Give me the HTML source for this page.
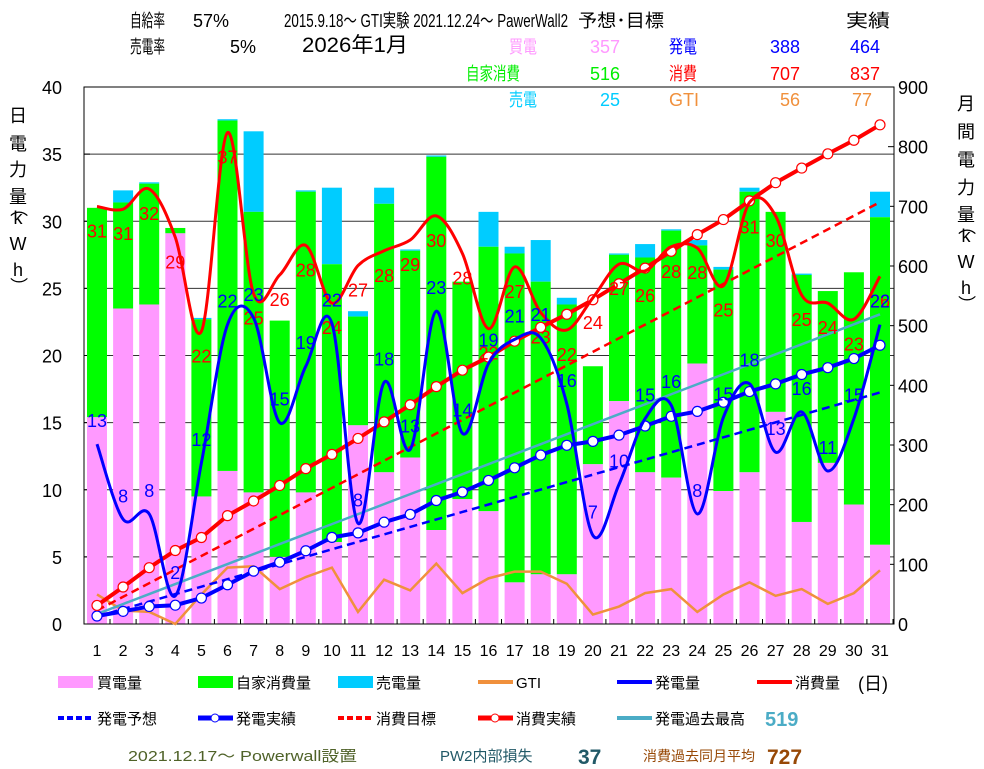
<!DOCTYPE html>
<html><head><meta charset="utf-8"><style>
body{margin:0;background:#fff;}
svg{display:block;font-family:"Liberation Sans","Noto Sans CJK JP",sans-serif;}
</style></head><body>
<svg id="chart" width="984" height="769" viewBox="0 0 984 769">
<g id="hdr" font-size="18" fill="#000">
<text x="130" y="27" textLength="35" lengthAdjust="spacingAndGlyphs">自給率</text>
<text x="193" y="27">57%</text>
<text x="284" y="27" textLength="284" lengthAdjust="spacingAndGlyphs">2015.9.18〜  GTI実験 2021.12.24〜 PawerWall2</text>
<text x="578" y="27" textLength="86" lengthAdjust="spacingAndGlyphs">予想･目標</text>
<text x="846" y="27" textLength="44" lengthAdjust="spacingAndGlyphs">実績</text>
<text x="130" y="53" textLength="35" lengthAdjust="spacingAndGlyphs">売電率</text>
<text x="230" y="53">5%</text>
<text x="302" y="52" font-size="21" textLength="106" lengthAdjust="spacingAndGlyphs">2026年1月</text>
<text x="509" y="53" fill="#ff99ff" textLength="28" lengthAdjust="spacingAndGlyphs">買電</text>
<text x="620" y="53" fill="#ff99ff" text-anchor="end">357</text>
<text x="669" y="53" fill="#0000ff" textLength="28" lengthAdjust="spacingAndGlyphs">発電</text>
<text x="800" y="53" fill="#0000ff" text-anchor="end">388</text>
<text x="880" y="53" fill="#0000ff" text-anchor="end">464</text>
<text x="466" y="80" fill="#00ee00" textLength="54" lengthAdjust="spacingAndGlyphs">自家消費</text>
<text x="620" y="80" fill="#00ee00" text-anchor="end">516</text>
<text x="669" y="80" fill="#ff0000" textLength="28" lengthAdjust="spacingAndGlyphs">消費</text>
<text x="800" y="80" fill="#ff0000" text-anchor="end">707</text>
<text x="880" y="80" fill="#ff0000" text-anchor="end">837</text>
<text x="509" y="106" fill="#00ccff" textLength="28" lengthAdjust="spacingAndGlyphs">売電</text>
<text x="620" y="106" fill="#00ccff" text-anchor="end">25</text>
<text x="669" y="106" fill="#f0903c">GTI</text>
<text x="800" y="106" fill="#f0903c" text-anchor="end">56</text>
<text x="872" y="106" fill="#f0903c" text-anchor="end">77</text>
</g>
<g id="plot"></g>
<g id="legend" font-size="15">
<rect x="58" y="676" width="35" height="12" fill="#ff99ff"/><text x="97" y="688">買電量</text>
<rect x="198" y="676" width="35" height="12" fill="#00ff00"/><text x="236" y="688">自家消費量</text>
<rect x="338" y="676" width="35" height="12" fill="#00ccff"/><text x="376" y="688">売電量</text>
<line x1="478" y1="682" x2="513" y2="682" stroke="#f0903c" stroke-width="4"/><text x="516" y="688">GTI</text>
<line x1="617" y1="682" x2="652" y2="682" stroke="#0000ff" stroke-width="4"/><text x="655" y="688">発電量</text>
<line x1="757" y1="682" x2="792" y2="682" stroke="#ff0000" stroke-width="4"/><text x="795" y="688">消費量</text>
<text x="858" y="690" font-size="18">(日)</text>
<line x1="58" y1="718" x2="93" y2="718" stroke="#0000ff" stroke-width="4" stroke-dasharray="6,3"/><text x="97" y="724">発電予想</text>
<line x1="198" y1="718" x2="233" y2="718" stroke="#0000ff" stroke-width="5"/><circle cx="215" cy="718" r="4" fill="#fff" stroke="#0000ff"/><text x="236" y="724">発電実績</text>
<line x1="338" y1="718" x2="373" y2="718" stroke="#ff0000" stroke-width="4" stroke-dasharray="6,3"/><text x="376" y="724">消費目標</text>
<line x1="478" y1="718" x2="513" y2="718" stroke="#ff0000" stroke-width="5"/><circle cx="495" cy="718" r="4" fill="#fff" stroke="#ff0000"/><text x="516" y="724">消費実績</text>
<line x1="617" y1="718" x2="652" y2="718" stroke="#4bacc6" stroke-width="4"/><text x="655" y="724">発電過去最高</text>
<text x="765" y="726" font-size="20" font-weight="bold" fill="#4bacc6">519</text>
<text x="128" y="761" fill="#4f6228" textLength="229" lengthAdjust="spacingAndGlyphs">2021.12.17〜  Powerwall設置</text>
<text x="440" y="761" fill="#215967">PW2内部損失</text>
<text x="578" y="764" font-size="21" font-weight="bold" fill="#215967">37</text>
<text x="643" y="761" fill="#974806" font-size="14">消費過去同月平均</text>
<text x="767" y="764" font-size="21" font-weight="bold" fill="#974806">727</text>
</g>
</svg>
<script>
const days=[1,2,3,4,5,6,7,8,9,10,11,12,13,14,15,16,17,18,19,20,21,22,23,24,25,26,27,28,29,30,31];
const buyTop=[15.4,23.5,23.8,29.1,9.5,11.4,9.8,5.0,9.8,6.1,14.8,11.3,12.4,7.0,9.3,8.4,3.1,3.7,3.7,11.9,16.6,11.3,10.9,19.4,9.9,11.3,15.8,7.6,12.0,8.9,5.9];
const selfTop=[31.0,31.4,32.8,29.5,22.7,37.5,30.7,22.6,32.2,26.8,22.9,31.3,27.8,34.8,25.5,28.1,27.6,25.5,23.8,19.2,27.5,27.3,29.3,28.2,26.4,32.2,30.7,26.0,24.8,26.2,30.3];
const sellTop=[31.0,32.3,32.9,29.5,22.8,37.6,36.7,22.6,32.3,32.5,23.3,32.5,27.9,34.9,25.5,30.7,28.1,28.6,24.3,19.2,27.6,28.3,29.4,28.6,26.6,32.5,30.7,26.1,24.8,26.2,32.2];
const genDaily=[13.4,7.8,8.2,2.1,12.0,22.3,22.8,15.0,19.2,22.4,7.5,18.0,13.0,23.3,14.2,19.4,21.2,21.3,16.4,6.6,10.4,15.3,16.3,8.2,15.4,17.9,12.8,15.8,11.4,15.3,22.3];
const useDaily=[31.1,30.9,32.4,28.8,21.8,36.6,24.6,26.0,28.2,23.9,26.7,27.8,28.6,30.4,27.6,22.0,26.6,23.2,21.9,24.3,26.8,26.3,28.1,28.0,25.2,31.4,30.4,24.5,23.9,22.7,25.9];
const gtiDaily=[2.2,1.0,0.9,0.0,2.2,4.2,4.3,2.6,3.5,4.2,0.9,3.3,2.5,4.5,2.3,3.4,3.9,3.9,3.0,0.7,1.3,2.3,2.6,0.9,2.2,3.1,2.1,2.6,1.5,2.3,4.0];
const genForecastTotal=388;
const useTargetTotal=707;
const genRecordTotal=519;
const leftTicks=[0,5,10,15,20,25,30,35,40];
const rightTicks=[0,100,200,300,400,500,600,700,800,900];

const NS="http://www.w3.org/2000/svg";
const X0=84,X1=894,Y0=624,Y1=87;
const x=d=>97+(d-1)*(880-97)/30;
const yL=v=>Y0-v*(Y0-Y1)/40;
const yR=v=>Y0-v*(Y0-Y1)/900;
const plot=document.getElementById('plot');
function mk(tag,attrs,parent){const e=document.createElementNS(NS,tag);for(const k in attrs)e.setAttribute(k,attrs[k]);(parent||plot).appendChild(e);return e;}

leftTicks.forEach(t=>{
  if(t>0&&t<40){const g=mk('line',{x1:X0,x2:X1,y1:yL(t),y2:yL(t),stroke:'#333','stroke-width':1});
  
  }
  const tk=mk('line',{x1:X0,x2:X0+6,y1:yL(t),y2:yL(t),stroke:'#000'});
  
  
  const l=mk('text',{x:62,y:yL(t)+7,'text-anchor':'end','font-size':18});
  l.textContent=t;
  
  
});
rightTicks.forEach(t=>{
  const tk=mk('line',{x1:X1-6,x2:X1,y1:yR(t),y2:yR(t),stroke:'#000'});
  
  
  const l=mk('text',{x:898,y:yR(t)+7,'font-size':18});
  l.textContent=t;
  
  
});
const bw=20;
days.forEach((d,i)=>{
  const cx=x(d);
  const b1=mk('rect',{x:cx-bw/2,y:yL(sellTop[i]),width:bw,height:Math.max(0,yL(selfTop[i])-yL(sellTop[i])),fill:'#00ccff'});
  
  
  const b2=mk('rect',{x:cx-bw/2,y:yL(selfTop[i]),width:bw,height:Math.max(0,yL(buyTop[i])-yL(selfTop[i])),fill:'#00ff00'});
  
  
  const b3=mk('rect',{x:cx-bw/2,y:yL(buyTop[i]),width:bw,height:Y0-yL(buyTop[i]),fill:'#ff99ff'});
  
  
  const xl=mk('text',{x:cx,y:656,'text-anchor':'middle','font-size':16});
  xl.textContent=d;
  
  
  const xt=mk('line',{x1:cx+13,x2:cx+13,y1:Y0,y2:Y0-5,stroke:'#000'});
  
  
});
const bd=mk('rect',{x:X0,y:Y1,width:X1-X0,height:Y0-Y1,fill:'none',stroke:'#000','stroke-width':1});



function spline(pts){let s=`M${pts[0][0]},${pts[0][1]}`;for(let i=0;i<pts.length-1;i++){const p0=pts[Math.max(0,i-1)],p1=pts[i],p2=pts[i+1],p3=pts[Math.min(pts.length-1,i+2)];s+=` C${p1[0]+(p2[0]-p0[0])/6},${p1[1]+(p2[1]-p0[1])/6} ${p2[0]-(p3[0]-p1[0])/6},${p2[1]-(p3[1]-p1[1])/6} ${p2[0]},${p2[1]}`;}return s;}
function poly(pts){return 'M'+pts.map(p=>p.join(',')).join(' L');}

const gti=mk('path',{d:poly(days.map((d,i)=>[x(d),yL(gtiDaily[i])])),fill:'none',stroke:'#f0903c','stroke-width':2.5});


function lin(total,color,dash,name,w){
  const p=mk('path',{d:poly(days.map(d=>[x(d),yR(total*d/31)])),fill:'none',stroke:color,'stroke-width':w,'stroke-dasharray':dash});
  
  
}
lin(genRecordTotal,'#4bacc6','none','gen-record-line',2.5);
lin(genForecastTotal,'#0000ff','8,5','gen-forecast-line',2.5);
lin(useTargetTotal,'#ff0000','8,5','use-target-line',2.5);
function cum(arr,color,name){
  let s=0;const pts=arr.map((v,i)=>{s+=v;return [x(days[i]),yR(s)];});
  const p=mk('path',{d:poly(pts),fill:'none',stroke:color,'stroke-width':4});
  
  
  pts.forEach(q=>{const c=mk('circle',{cx:q[0],cy:q[1],r:5,fill:'#fff',stroke:color,'stroke-width':1.2});
  
  });
}
cum(genDaily,'#0000ff','gen-cumulative-line');
cum(useDaily,'#ff0000','use-cumulative-line');
function daily(arr,color,name,dy){
  const pts=days.map((d,i)=>[x(d),yL(arr[i])]);
  const p=mk('path',{d:spline(pts),fill:'none',stroke:color,'stroke-width':3});
  
  
  pts.forEach((q,i)=>{const t=mk('text',{x:q[0],y:q[1]+dy,'text-anchor':'middle','font-size':18,fill:color});
  t.textContent=Math.round(arr[i]);
  
  });
}
daily(useDaily,'#ff0000','use-daily-line',31);
daily(genDaily,'#0000ff','gen-daily-line',-17);
const lt=['日','電','力','量','（','k','W','h','）'],ly=[122,150,176,203,214,224,250,276,292];
lt.forEach((c,i)=>{const t=mk('text',{x:18,y:ly[i],'text-anchor':'middle','font-size':18,transform:(c=='（'||c=='）')?`rotate(90 18 ${ly[i]-6})`:''});t.textContent=c;

});
const rt=['月','間','電','力','量','（','k','W','h','）'],ry=[110,138,166,194,221,232,242,268,294,310];
rt.forEach((c,i)=>{const t=mk('text',{x:966,y:ry[i],'text-anchor':'middle','font-size':18,transform:(c=='（'||c=='）')?`rotate(90 966 ${ry[i]-6})`:''});t.textContent=c;

});
</script>
</body></html>
